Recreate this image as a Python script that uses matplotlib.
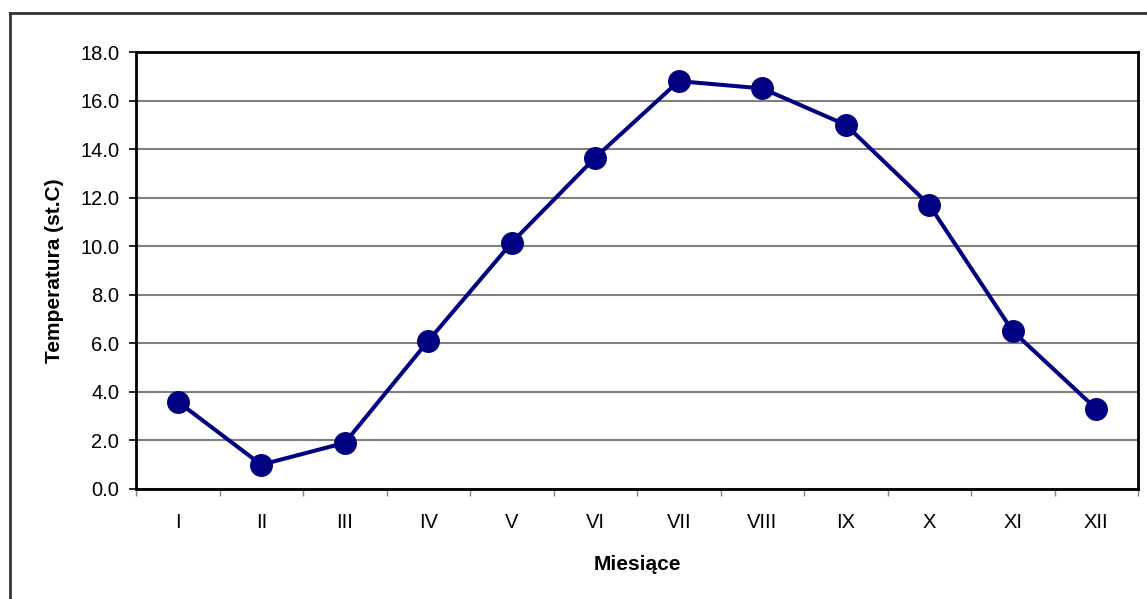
import matplotlib
matplotlib.use("Agg")
import matplotlib.pyplot as plt
from matplotlib.lines import Line2D

months = ["I", "II", "III", "IV", "V", "VI", "VII", "VIII", "IX", "X", "XI", "XII"]
temps = [3.6, 1.0, 1.9, 6.1, 10.15, 13.65, 16.8, 16.5, 15.0, 11.7, 6.5, 3.3]
yticks = [0, 2, 4, 6, 8, 10, 12, 14, 16, 18]

plt.rcParams["font.family"] = ["Liberation Sans", "DejaVu Sans"]

W, H = 1147, 599
fig = plt.figure(figsize=(W / 100, H / 100), dpi=100)
ax = fig.add_axes([136 / W, 1 - 489 / H, (1138 - 136) / W, (489 - 52) / H])

x = range(len(months))
ax.plot(x, temps, color="#000080", lw=2.9, marker="o", ms=15.5, zorder=3,
        clip_on=False)

ax.set_xlim(-0.5, len(months) - 0.5)
ax.set_ylim(0, 18)
ax.set_yticks(yticks, labels=[f"{v:.1f}" for v in yticks])
ax.set_xticks(x, labels=months)
ax.set_xticks([i - 0.5 for i in range(len(months) + 1)], minor=True)
ax.tick_params(axis="x", which="major", length=0, pad=17, labelsize=14.5)
ax.tick_params(axis="x", which="minor", length=5, width=1, color="#808080")
ax.tick_params(axis="y", length=5, width=1.2, pad=7, labelsize=14.5)
ax.grid(axis="y", color="#808080", lw=1.5)
ax.set_axisbelow(True)
for s in ax.spines.values():
    s.set_linewidth(2)
    s.set_color("black")

ax.set_xlabel("Miesiące", fontsize=15, weight="bold", labelpad=17)
ax.set_ylabel("Temperatura (st.C)", fontsize=15, weight="bold", labelpad=12)

# outer chart border (top and left edges visible)
fig.add_artist(Line2D([10 / W, 10 / W], [0, 1 - 13 / H], color="#333333", lw=2))
fig.add_artist(Line2D([10 / W, 1], [1 - 13 / H, 1 - 13 / H], color="#333333", lw=2))

fig.savefig("out.png", dpi=100, facecolor="white")
